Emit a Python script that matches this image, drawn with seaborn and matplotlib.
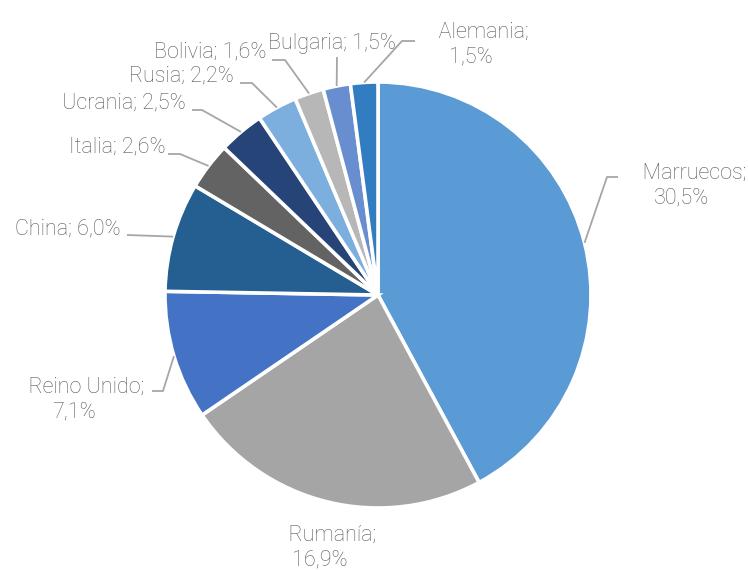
import numpy as np
import matplotlib
matplotlib.use("Agg")
import matplotlib.pyplot as plt
import seaborn as sns

countries = ["Marruecos", "Rumanía", "Reino Unido", "China", "Italia",
             "Ucrania", "Rusia", "Bolivia", "Bulgaria", "Alemania"]
shares = [30.5, 16.9, 7.1, 6.0, 2.6, 2.5, 2.2, 1.6, 1.5, 1.5]
share_labels = ["30,5%", "16,9%", "7,1%", "6,0%", "2,6%",
                "2,5%", "2,2%", "1,6%", "1,5%", "1,5%"]
slice_colors = ["#5B9BD5", "#A5A5A5", "#4472C4", "#255E91", "#636363",
                "#264478", "#7CAFDD", "#B7B7B7", "#698ED0", "#327DC2"]

sns.set_style("white")
plt.rcParams["font.family"] = ["Roboto", "DejaVu Sans"]

# pie centre and radius in pixels
CX, CY, R = 378, 295, 213
W, H = 748, 570


def px(x, y):
    return (x - CX) / R, (CY - y) / R


# label layout in pixels: text anchor, alignment, two lines?, leader elbow, leader end
# two-line labels are anchored on the last line's baseline, x = centre of that line
layout = {
    "Marruecos":   dict(xy=(682, 203), ha="center", va="baseline", wrap=True, elbow=(607, 177), end=(618, 177)),
    "Rumanía":     dict(xy=(320, 565), ha="center", va="baseline", wrap=True, elbow=None, end=None),
    "Reino Unido": dict(xy=(74, 417), ha="center", va="baseline", wrap=True, elbow=(163, 391), end=(152, 391)),
    "China":       dict(xy=(121, 229), ha="right", va="center", wrap=False, elbow=None, end=(127, 235)),
    "Italia":      dict(xy=(166, 147), ha="right", va="center", wrap=False, elbow=(180, 154), end=(168, 154)),
    "Ucrania":     dict(xy=(186, 103), ha="right", va="center", wrap=False, elbow=(202, 110), end=(192, 110)),
    "Rusia":       dict(xy=(234, 76), ha="right", va="center", wrap=False, elbow=(252, 83), end=(240, 83)),
    "Bolivia":     dict(xy=(267, 52), ha="right", va="center", wrap=False, elbow=(285, 60), end=(272, 60)),
    "Bulgaria":    dict(xy=(332, 44), ha="center", va="center", wrap=False, elbow=None, end=(337, 57)),
    "Alemania":    dict(xy=(471, 62), ha="center", va="baseline", wrap=True, elbow=(402, 41), end=(415, 41)),
}

fig = plt.figure(figsize=(W / 100, H / 100), dpi=100)
ax = fig.add_axes([0, 0, 1, 1])

wedges, _ = ax.pie(shares, colors=sns.color_palette(slice_colors), startangle=90,
                   counterclock=False, radius=1, center=(0, 0),
                   wedgeprops=dict(edgecolor="white", linewidth=2.6))

ax.set_xlim(-CX / R, (W - CX) / R)
ax.set_ylim(-(H - CY) / R, CY / R)
ax.set_aspect("auto")
ax.axis("off")

text_color = "#595959"
line_color = "#A6A6A6"

for w, name, lab in zip(wedges, countries, share_labels):
    cfg = layout[name]
    if cfg["wrap"]:
        # first line sits a little to the right of the second, as in the original
        txt = "\u00a0" * 5 + name + ";" + "\n" + lab
    else:
        txt = f"{name}; {lab}"
    tx, ty = px(*cfg["xy"])
    ax.text(tx, ty, txt, ha=cfg["ha"], va=cfg["va"], ma="center",
            fontsize=15.5, fontweight="light", color=text_color, linespacing=1.2)

    if cfg["end"] is not None:
        mid = np.deg2rad((w.theta1 + w.theta2) / 2)
        pts = [(np.cos(mid), np.sin(mid))]
        if cfg["elbow"] is not None:
            pts.append(px(*cfg["elbow"]))
        pts.append(px(*cfg["end"]))
        xs, ys = zip(*pts)
        ax.plot(xs, ys, color=line_color, lw=1.3, solid_capstyle="butt")

fig.savefig("out.png", dpi=100)
